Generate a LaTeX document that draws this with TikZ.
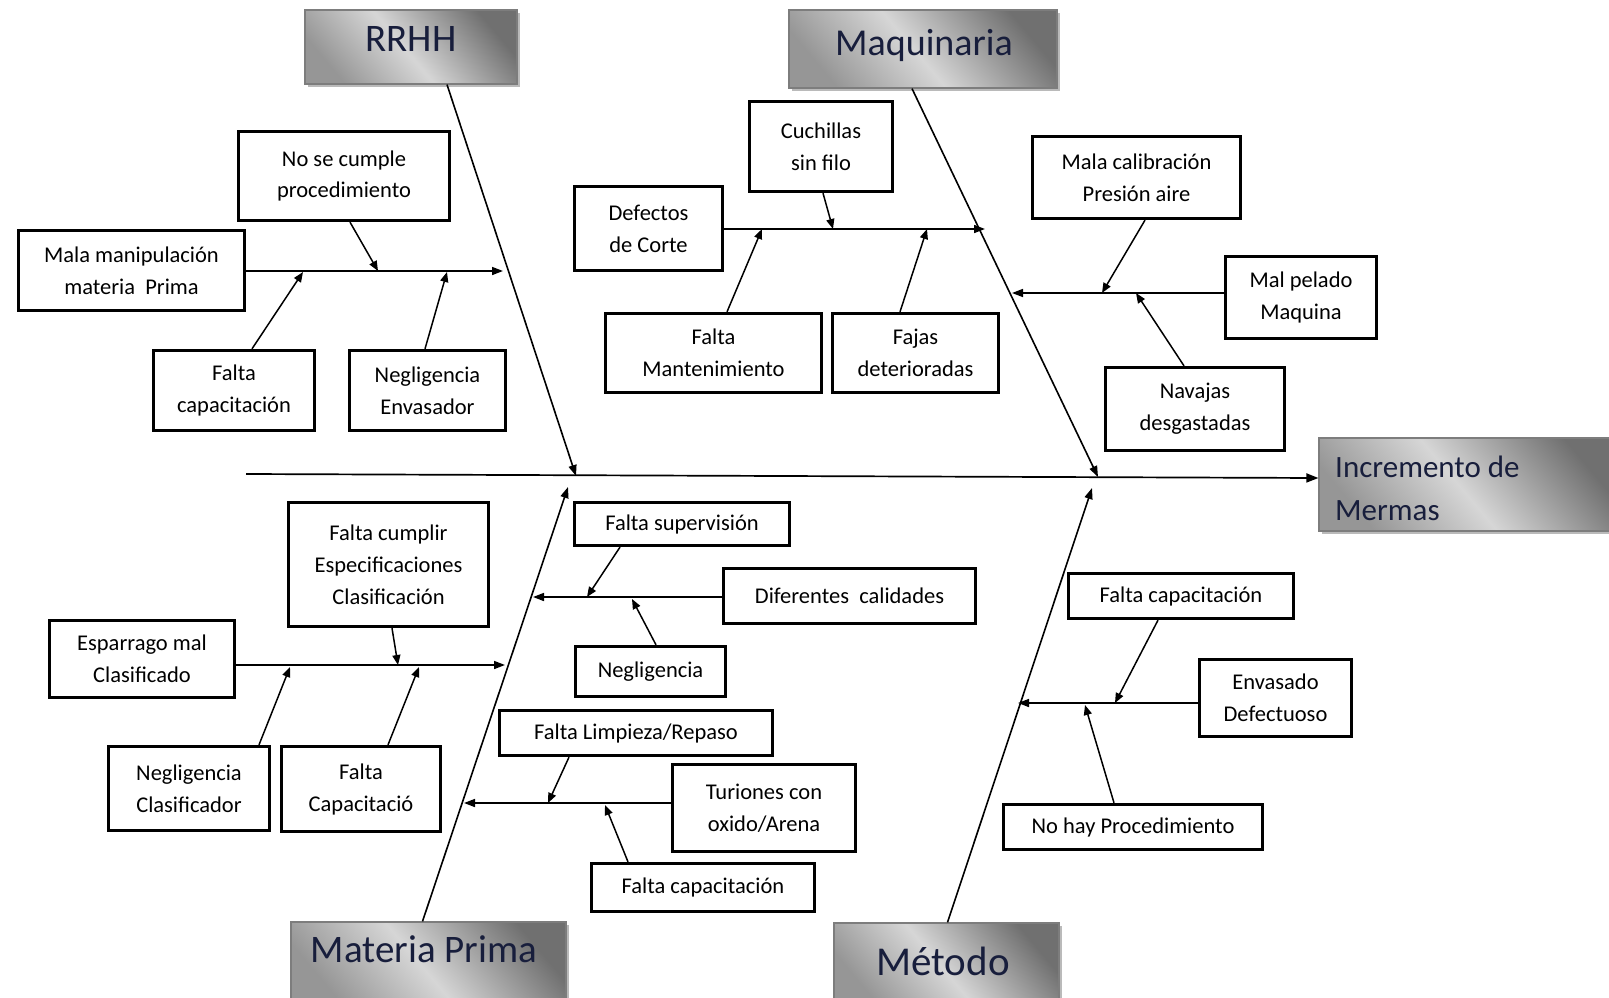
\documentclass[tikz,border=0pt]{standalone}
\usepackage{fontspec}
\setmainfont{Carlito}
\usetikzlibrary{arrows.meta,shadows}

\definecolor{hdrtxt}{RGB}{24,30,60}
\definecolor{hdrline}{RGB}{125,125,125}
\definecolor{gdark}{RGB}{150,150,150}
\definecolor{glight}{RGB}{214,214,214}
\definecolor{gdarker}{RGB}{112,112,112}

% diagonal grey gradient of the category headers: mid grey, light band, dark grey
\pgfdeclarehorizontalshading{hdrshade}{100bp}{color(0bp)=(gdark); color(25bp)=(gdark); color(48bp)=(glight); color(75bp)=(gdarker); color(100bp)=(gdarker)}

\tikzset{
  cause/.style={draw=black, line width=3.3pt, fill=white, align=center,
    inner sep=0pt, font=\fontsize{22.5}{32}\selectfont},
  hdr/.style={draw=hdrline, line width=1.2pt, shade, shading=hdrshade,
    shading angle=40, inner sep=0pt,
    drop shadow={shadow xshift=3pt, shadow yshift=-3pt, fill=black!45, opacity=.6}},
  hdrlabel/.style={text=hdrtxt, inner sep=0pt},
  spine/.style={line width=1.7pt, -{Triangle[length=12pt,width=9pt]}},
  bone/.style={line width=1.6pt, -{Triangle[length=11pt,width=8pt]}},
  twig/.style={line width=1.5pt, -{Triangle[length=10pt,width=8pt]}},
}

\begin{document}
\begin{tikzpicture}[x=1pt, y=-1pt]
\useasboundingbox (0,0) rectangle (1609,998);

% ---------- effect ----------
\node[hdr, minimum width=300pt, minimum height=93pt] (inc) at (1469,484.5) {};
\node[hdrlabel, anchor=west, align=left, font=\fontsize{31}{43}\selectfont] (incT) at (1335,488) {Incremento de\\Mermas};

% ---------- category headers ----------
\node[hdr, minimum width=212pt, minimum height=74pt] (rrhh) at (411,47) {};
\node[hdrlabel, anchor=base, font=\fontsize{39}{44}\selectfont] (rrhhT) at (411,52) {RRHH};

\node[hdr, minimum width=268pt, minimum height=78pt] (maq) at (923,49) {};
\node[hdrlabel, anchor=base, font=\fontsize{38}{44}\selectfont] (maqT) at (924,56) {Maquinaria};

\node[hdr, minimum width=275pt, minimum height=81pt] (mp) at (428.5,962.5) {};
\node[hdrlabel, anchor=base, font=\fontsize{39}{44}\selectfont] (mpT) at (424,962) {Materia Prima};

\node[hdr, minimum width=225pt, minimum height=80pt] (met) at (946.5,963) {};
\node[hdrlabel, anchor=base, font=\fontsize{41}{46}\selectfont] (metT) at (943,975) {Método};

% ---------- spine and main bones ----------
\coordinate (sp0) at (246,474);
\draw[spine] (sp0) -- ([yshift=6.5pt]inc.west);

\coordinate (jR) at (576,476);
\coordinate (jM) at (1098,477);
\coordinate (jP) at (568,487);
\coordinate (jT) at (1092,488);
\draw[bone] ([xshift=36pt]rrhh.south) -- (jR);
\draw[bone] ([xshift=-11pt]maq.south) -- (jM);
\draw[bone] ([xshift=-6pt]mp.north) -- (jP);
\draw[bone] ([xshift=1pt]met.north) -- (jT);

% ---------- RRHH ----------
\node[cause, minimum width=211pt, minimum height=89pt] (nsc) at (344,176) {No se cumple\\procedimiento};
\node[cause, minimum width=226pt, minimum height=80pt] (mmp) at (131.5,270.5) {Mala manipulación\\materia~ Prima};
\node[cause, minimum width=161pt, minimum height=80pt] (fcap1) at (234,390.5) {Falta\\capacitación};
\node[cause, minimum width=156pt, minimum height=80pt] (nenv) at (427.5,390.5) {Negligencia\\Envasador};

\coordinate (bR) at (503,271);
\coordinate (tR1) at (378,271);
\coordinate (tR2) at (303,272);
\coordinate (tR3) at (447,272);
\draw[bone] (mmp.east |- bR) -- (bR);
\draw[twig] ([xshift=6pt]nsc.south) -- (tR1);
\draw[twig] ([xshift=18pt]fcap1.north) -- (tR2);
\draw[twig] ([xshift=-2.5pt]nenv.north) -- (tR3);

% ---------- Maquinaria ----------
\node[cause, minimum width=148pt, minimum height=84pt] (dc) at (648.5,228.5) {Defectos\\de Corte};
\node[cause, minimum width=143pt, minimum height=90pt] (csf) at (821,146.5) {Cuchillas\\sin filo};
\node[cause, minimum width=216pt, minimum height=79pt] (fm) at (713.5,353) {Falta\\Mantenimiento};
\node[cause, minimum width=166pt, minimum height=79pt] (fd) at (915.5,353) {Fajas\\deterioradas};

\coordinate (bM1) at (985,229);
\coordinate (tM1) at (833,229);
\coordinate (tM2) at (762,229);
\coordinate (tM3) at (927,229);
\draw[bone] (dc.east |- bM1) -- (bM1);
\draw[twig] ([xshift=2pt]csf.south) -- (tM1);
\draw[twig] ([xshift=13.5pt]fm.north) -- (tM2);
\draw[twig] ([xshift=-15.5pt]fd.north) -- (tM3);

\node[cause, minimum width=208pt, minimum height=82pt] (mcp) at (1136.5,177.5) {Mala calibración\\Presión aire};
\node[cause, minimum width=151pt, minimum height=82pt] (mpm) at (1301,297.5) {Mal pelado\\Maquina};
\node[cause, minimum width=179pt, minimum height=83pt] (nd) at (1195,409) {Navajas\\desgastadas};

\coordinate (bM2) at (1012,293);
\coordinate (tM4) at (1102,293);
\coordinate (tM5) at (1136,293);
\draw[bone] (mpm.west |- bM2) -- (bM2);
\draw[twig] ([xshift=8.5pt]mcp.south) -- (tM4);
\draw[twig] ([xshift=-11pt]nd.north) -- (tM5);

% ---------- Materia Prima ----------
\node[cause, minimum width=200pt, minimum height=124pt] (fce) at (388.5,564.5) {Falta cumplir\\Especificaciones\\Clasificación};
\node[cause, minimum width=185pt, minimum height=77pt] (emc) at (142,659) {Esparrago mal\\Clasificado};
\node[cause, minimum width=161pt, minimum height=84pt] (ncl) at (189,788.5) {Negligencia\\Clasificador};
\node[cause, minimum width=159pt, minimum height=85pt] (fcp) at (361,789) {Falta\\Capacitació};

\coordinate (bP1) at (505,665);
\coordinate (tP1) at (398,665);
\coordinate (tP2) at (290,667);
\coordinate (tP3) at (419,667);
\draw[bone] (emc.east |- bP1) -- (bP1);
\draw[twig] ([xshift=3.5pt]fce.south) -- (tP1);
\draw[twig] ([xshift=70pt]ncl.north) -- (tP2);
\draw[twig] ([xshift=27pt]fcp.north) -- (tP3);

\node[cause, minimum width=215pt, minimum height=43pt] (fsup) at (682,524) {Falta supervisión};
\node[cause, minimum width=252pt, minimum height=55pt] (dcal) at (849.5,596) {Diferentes~ calidades};
\node[cause, minimum width=150pt, minimum height=50pt] (neg) at (650.5,671.5) {Negligencia};

\coordinate (bP2) at (533,597);
\coordinate (tP4) at (587,597);
\coordinate (tP5) at (632,599);
\draw[bone] (dcal.west |- bP2) -- (bP2);
\draw[twig] ([xshift=-62pt]fsup.south) -- (tP4);
\draw[twig] ([xshift=5.5pt]neg.north) -- (tP5);

\node[cause, minimum width=273pt, minimum height=45pt] (flr) at (636,733) {Falta Limpieza/Repaso};
\node[cause, minimum width=183pt, minimum height=87pt] (tur) at (764,808) {Turiones con\\oxido/Arena};
\node[cause, minimum width=223pt, minimum height=48pt] (fcap2) at (703,887.5) {Falta capacitación};

\coordinate (bP3) at (464,803);
\coordinate (tP6) at (548,803);
\coordinate (tP7) at (605,805);
\draw[bone] (tur.west |- bP3) -- (bP3);
\draw[twig] ([xshift=-67pt]flr.south) -- (tP6);
\draw[twig] ([xshift=-75pt]fcap2.north) -- (tP7);

% ---------- Método ----------
\node[cause, minimum width=225pt, minimum height=45pt] (fcap3) at (1181,596) {Falta capacitación};
\node[cause, minimum width=152pt, minimum height=77pt] (envd) at (1275.5,698) {Envasado\\Defectuoso};
\node[cause, minimum width=259pt, minimum height=45pt] (nhp) at (1133,827) {No hay Procedimiento};

\coordinate (bT1) at (1018,703);
\coordinate (tT1) at (1115,703);
\coordinate (tT2) at (1085,705);
\draw[bone] (envd.west |- bT1) -- (bT1);
\draw[twig] ([xshift=-23pt]fcap3.south) -- (tT1);
\draw[twig] ([xshift=-19pt]nhp.north) -- (tT2);

\end{tikzpicture}
\end{document}
